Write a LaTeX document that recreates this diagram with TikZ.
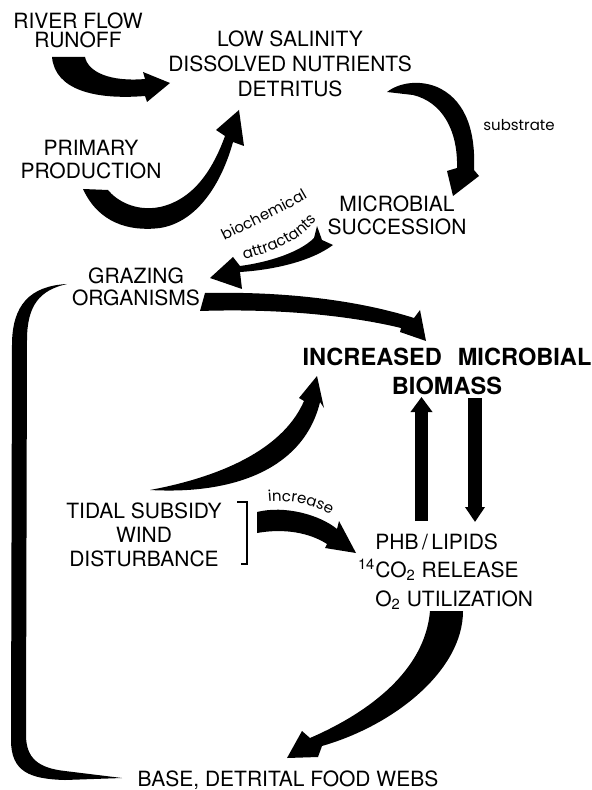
\documentclass[tikz,border=0pt]{standalone}
\usepackage{fontspec}
\setmainfont{TeX Gyre Heros}
\newfontfamily\lcfont{Poppins}
\usetikzlibrary{arrows.meta, decorations.text}
\newcommand{\smalllbl}{\lcfont\fontsize{7.5}{9}\selectfont}

\begin{document}
\begin{tikzpicture}[x=0.5pt, y=-0.5pt,
    lbl/.style={font=\fontsize{10.5}{12.5}\selectfont, align=center, inner sep=0pt, anchor=north},
    small/.style={font=\smalllbl, inner sep=0pt},
    fat/.style={fill=black},
    bar/.style={line width=6.5pt},
  ]
  \path[use as bounding box] (0,0) rectangle (592,790);
  \fill[white] (0,0) rectangle (592,790);

  % text blocks, positions in pixels of the original figure
  \node[lbl, font=\fontsize{10.5}{9.5}\selectfont] (river) at (78,12) {RIVER FLOW\\RUNOFF};
  \node[lbl] (lowsal) at (290,30) {LOW SALINITY\\DISSOLVED NUTRIENTS\\DETRITUS};
  \node[lbl, font=\fontsize{10.5}{11.5}\selectfont] (primary) at (91,140) {PRIMARY\\PRODUCTION};
  \node[small] (substrate) at (519,125) {substrate};
  \node[lbl, font=\fontsize{10.5}{11.5}\selectfont] (succession) at (397,195) {MICROBIAL\\SUCCESSION};
  \node[lbl, font=\fontsize{10.5}{11}\selectfont] (grazing) at (136,267) {GRAZING\\ORGANISMS};
  \node[lbl, font=\bfseries\fontsize{11.8}{14.5}\selectfont] (biomass) at (447,348) {INCREASED\hspace{0.4em} MICROBIAL\\BIOMASS};
  \node[lbl, font=\fontsize{10.5}{12}\selectfont] (tidal) at (144,502) {TIDAL SUBSIDY\\WIND\\DISTURBANCE};
  \node[lbl, anchor=north west, align=left, font=\fontsize{10.5}{14.25}\selectfont] (phb) at (375,533)
    {PHB\,/\,LIPIDS\\\llap{\textsuperscript{14}}CO\textsubscript{2} RELEASE\\O\textsubscript{2} UTILIZATION};
  \node[lbl] (base) at (288,770) {BASE, DETRITAL FOOD WEBS};

  % curved labels
  \path[decorate, decoration={text along path, text={|\smalllbl|biochemical}, text align=center}]
    (219,243) .. controls (247,229) and (285,212) .. (313,195);
  \path[decorate, decoration={text along path, text={|\smalllbl|attractants}, text align=center}]
    (238,261) .. controls (270,254) and (302,241) .. (321,215);
  \path[decorate, decoration={text along path, text={|\smalllbl|increase}, text align=center}]
    (260,503) .. controls (290,498) and (316,505) .. (338,519);

  % arrow ends
  \coordinate (rf-tip) at (170,83);
  \coordinate (pp-tip) at (239,110);
  \coordinate (sub-tip) at (453,196);
  \coordinate (bio-tip) at (210,278);
  \coordinate (grz-tip) at (426,341);
  \coordinate (tid-tip) at (317,376);
  \coordinate (inc-tip) at (356,553);
  \coordinate (o2-tip) at (287,758);

  % river flow
  \fill[fat] (52,57) .. controls (55,90) and (95,100) .. (145,96) -- (147,102) -- (rf-tip) -- (143,72)
    -- (145,79) .. controls (110,82) and (88,72) .. (85,57) -- cycle;
  % primary production
  \fill[fat] (83,189) .. controls (98,222) and (128,232) .. (160,228) .. controls (198,222) and (222,182) .. (233,142)
    -- (244,146) -- (pp-tip) -- (216,130) -- (225,136) .. controls (212,172) and (192,200) .. (160,207)
    .. controls (135,212) and (116,200) .. (108,190) -- cycle;
  % substrate
  \fill[fat] (387,92) .. controls (400,82) and (420,80) .. (437,87) .. controls (462,98) and (476,125) .. (474,170)
    -- (479,176) -- (sub-tip) -- (447,171) -- (457,168) .. controls (458,130) and (442,102) .. (413,95) -- cycle;
  % biochemical attractants
  \fill[fat] (333,245) .. controls (310,262) and (272,270) .. (240,272) -- (242,289) -- (bio-tip) -- (233,257)
    -- (240,266) .. controls (270,262) and (300,252) .. (314,238) -- (317,226) -- (322,240) -- cycle;
  % grazing
  \fill[fat] (205,293) .. controls (300,291) and (370,304) .. (414,318) -- (420,310) -- (grz-tip) -- (400,332)
    -- (401,328) .. controls (360,318) and (290,308) .. (200,311) -- cycle;
  % tidal subsidy
  \fill[fat] (150,490) .. controls (240,495) and (305,465) .. (320,402) -- (324,408) -- (tid-tip) -- (299,398)
    -- (304,401) .. controls (285,445) and (230,475) .. (150,490) -- cycle;
  % increase
  \fill[fat] (257,512) .. controls (285,505) and (320,515) .. (337,529) -- (339,521) -- (inc-tip) -- (325,548)
    -- (327,544) .. controls (310,533) and (285,528) .. (257,533) -- cycle;
  % O2 utilization
  \fill[fat] (430,611) -- (463,611) .. controls (463,670) and (395,725) .. (322,746) -- (318,757) -- (o2-tip)
    -- (302,731) -- (310,738) .. controls (370,712) and (425,670) .. (430,611) -- cycle;
  % return bracket
  \fill[fat] (67,284) .. controls (30,286) and (12,305) .. (12,345) -- (11,740) .. controls (11,772) and (30,779) .. (65,780)
    -- (122,778) -- (65,771) .. controls (38,768) and (26,758) .. (26,735) -- (27,340)
    .. controls (27,305) and (40,290) .. (67,284) -- cycle;
  \draw[line width=0.8pt] (237,502) -- (247,502) -- (247,564) -- (241,564);

  % up and down arrows
  \coordinate (up-tail) at (421.5,521);
  \coordinate (up-tip) at (421.5,397);
  \coordinate (dn-tail) at (475,398);
  \coordinate (dn-tip) at (475,522);
  \draw[bar, -{Triangle[length=7.5pt, width=10.5pt]}] (up-tail) -- (up-tip);
  \draw[bar, line width=7pt, -{Triangle[length=7.5pt, width=9.5pt]}] (dn-tail) -- (dn-tip);
\end{tikzpicture}
\end{document}
